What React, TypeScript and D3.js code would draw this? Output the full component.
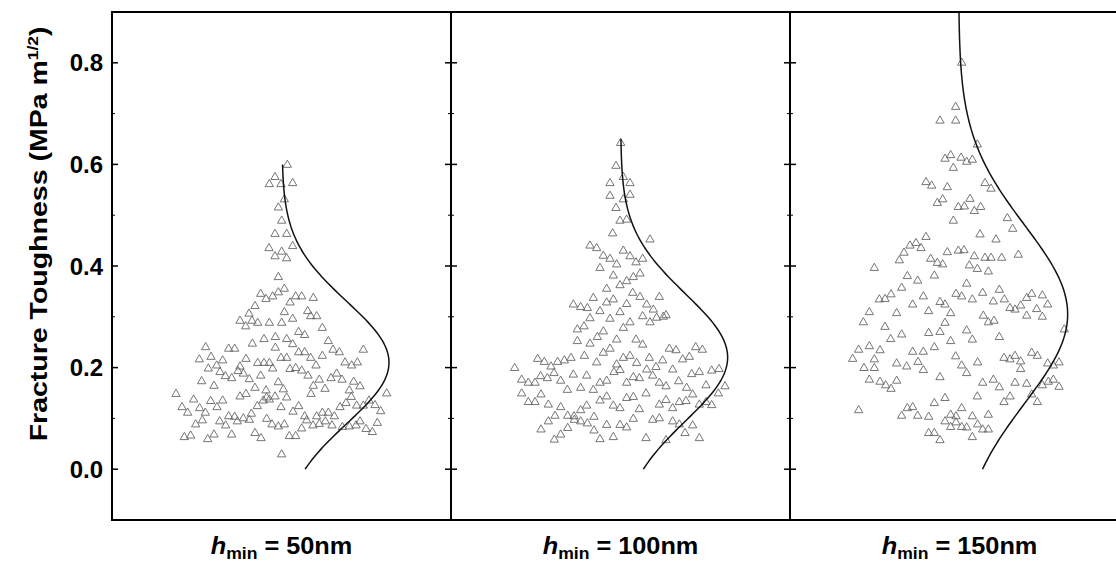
import React from "react";
import * as d3 from "d3";

// ---------- data ----------
const panelLabels = ["50nm", "100nm", "150nm"];
const yTicks = [0, 0.2, 0.4, 0.6, 0.8];
const yMinorTicks = [0.1, 0.3, 0.5, 0.7];
const yDomain: [number, number] = [-0.1, 0.9];
const jitterDomain: [number, number] = [0, 101.7];

// fitted normal curves (mean, sd, upper end of drawn curve, baseline jitter, amplitude in jitter units)
const fitMean = [0.21, 0.22, 0.305];
const fitSd = [0.12, 0.125, 0.175];
const fitTop = [0.6, 0.65, 0.9];
const fitBase = [51.0, 50.9, 50.6];
const fitAmp = [32.1, 32.1, 32.7];

// [jitter, fracture toughness]
const points50: [number, number][] = [
  [52.6,0.599],[48.9,0.575],[47.2,0.561],[50.7,0.561],[54.2,0.563],[51.7,0.531],[49.9,0.515],[50.9,0.489],
  [48.9,0.463],[52.4,0.463],[54.2,0.439],[47.1,0.435],[50.9,0.428],[48.9,0.419],[52.4,0.415],[49.9,0.378],
  [51.7,0.355],[49.9,0.348],[44.6,0.345],[48.2,0.340],[46.2,0.335],[55.1,0.340],[56.9,0.340],[60.4,0.337],
  [53.4,0.328],[42.9,0.321],[51.7,0.309],[58.7,0.311],[41.1,0.306],[59.6,0.301],[61.4,0.301],[54.2,0.296],
  [38.4,0.292],[42.0,0.292],[40.1,0.281],[43.7,0.288],[47.2,0.288],[50.9,0.288],[63.1,0.278],[56.0,0.270],
  [57.8,0.264],[49.0,0.260],[45.6,0.256],[52.4,0.256],[42.1,0.247],[54.2,0.246],[64.9,0.252],[28.1,0.240],
  [35.0,0.237],[36.8,0.237],[49.0,0.239],[66.3,0.235],[68.2,0.230],[75.4,0.235],[56.0,0.230],[57.8,0.230],
  [59.6,0.219],[63.1,0.223],[50.7,0.219],[52.4,0.219],[26.2,0.216],[29.7,0.221],[33.2,0.214],[40.2,0.217],
  [43.7,0.209],[45.6,0.209],[47.2,0.209],[31.4,0.204],[28.9,0.198],[38.4,0.202],[48.2,0.198],[53.4,0.197],
  [55.1,0.199],[56.9,0.194],[61.2,0.204],[69.9,0.210],[71.9,0.204],[73.6,0.210],[32.4,0.191],[37.8,0.193],
  [39.4,0.188],[34.0,0.183],[35.9,0.179],[41.2,0.177],[44.6,0.184],[58.8,0.184],[67.4,0.188],[65.7,0.179],
  [69.0,0.176],[26.9,0.173],[30.6,0.164],[49.9,0.171],[62.2,0.176],[72.5,0.172],[60.4,0.164],[63.9,0.158],
  [74.4,0.163],[42.9,0.160],[46.2,0.155],[51.4,0.157],[71.2,0.155],[19.2,0.148],[24.5,0.137],[38.4,0.143],
  [40.2,0.148],[59.7,0.148],[46.4,0.141],[48.9,0.143],[52.4,0.141],[47.2,0.137],[45.4,0.135],[29.6,0.134],
  [33.2,0.135],[71.8,0.142],[77.1,0.135],[82.4,0.149],[21.0,0.122],[26.3,0.120],[31.5,0.122],[22.7,0.111],
  [28.0,0.111],[43.6,0.124],[50.7,0.122],[56.0,0.124],[54.3,0.113],[68.4,0.122],[70.2,0.130],[73.4,0.125],
  [75.4,0.125],[78.9,0.126],[80.6,0.114],[41.8,0.109],[57.8,0.104],[61.4,0.104],[63.1,0.111],[64.9,0.111],
  [66.7,0.104],[58.4,0.096],[35.0,0.104],[36.8,0.103],[39.4,0.100],[41.2,0.097],[37.6,0.094],[46.4,0.099],
  [27.1,0.096],[32.3,0.094],[34.1,0.086],[25.1,0.088],[48.0,0.088],[49.9,0.084],[51.7,0.088],[60.3,0.086],
  [62.2,0.089],[64.0,0.094],[66.0,0.086],[69.1,0.083],[71.2,0.084],[73.2,0.086],[74.4,0.094],[79.6,0.091],
  [56.9,0.080],[76.2,0.079],[78.1,0.073],[21.7,0.063],[23.6,0.066],[28.7,0.059],[30.6,0.068],[35.9,0.068],
  [42.9,0.071],[44.7,0.061],[53.2,0.065],[55.1,0.065],[50.9,0.029],
];

const points100: [number, number][] = [
  [50.9,0.642],[49.5,0.597],[51.7,0.575],[53.7,0.563],[47.7,0.563],[47.7,0.538],[53.7,0.540],[51.7,0.531],
  [49.5,0.514],[50.7,0.489],[52.7,0.491],[48.5,0.464],[59.7,0.452],[41.7,0.440],[43.7,0.435],[51.7,0.430],
  [45.7,0.420],[47.7,0.414],[53.7,0.419],[49.7,0.403],[55.5,0.407],[57.5,0.414],[44.7,0.396],[56.7,0.385],
  [54.7,0.378],[52.7,0.370],[48.7,0.381],[50.7,0.362],[46.7,0.355],[54.5,0.347],[56.7,0.339],[62.5,0.339],
  [42.7,0.337],[48.7,0.334],[46.7,0.328],[36.7,0.324],[38.9,0.319],[40.9,0.317],[52.7,0.325],[58.7,0.324],
  [60.7,0.314],[44.7,0.311],[50.7,0.309],[41.7,0.297],[47.7,0.296],[57.5,0.301],[59.7,0.289],[61.7,0.298],
  [63.7,0.300],[64.5,0.303],[53.7,0.289],[51.7,0.278],[39.9,0.281],[37.9,0.275],[45.7,0.271],[43.9,0.260],
  [49.7,0.255],[41.7,0.247],[37.9,0.252],[55.5,0.255],[57.5,0.245],[65.5,0.237],[67.5,0.234],[73.4,0.240],
  [75.4,0.235],[45.7,0.229],[47.7,0.237],[40.0,0.223],[36.0,0.219],[26.0,0.217],[28.0,0.211],[30.0,0.202],
  [32.0,0.211],[34.0,0.214],[51.7,0.219],[53.7,0.223],[59.5,0.219],[63.5,0.214],[69.5,0.216],[71.5,0.221],
  [43.7,0.210],[49.7,0.206],[55.7,0.209],[61.5,0.201],[66.5,0.196],[48.9,0.191],[50.7,0.195],[19.1,0.199],
  [36.7,0.186],[40.7,0.184],[30.9,0.189],[26.9,0.183],[28.9,0.179],[58.7,0.196],[60.5,0.184],[52.7,0.170],
  [54.7,0.181],[56.5,0.179],[72.2,0.187],[74.5,0.191],[78.2,0.194],[80.4,0.197],[21.2,0.176],[23.2,0.170],
  [25.2,0.170],[32.9,0.174],[46.7,0.174],[44.7,0.170],[62.5,0.170],[64.5,0.163],[68.3,0.173],[70.7,0.160],
  [76.5,0.165],[82.2,0.163],[34.9,0.156],[38.9,0.160],[42.7,0.156],[21.2,0.149],[27.0,0.147],[23.2,0.132],
  [25.2,0.132],[46.7,0.143],[44.7,0.135],[58.5,0.149],[52.7,0.140],[54.7,0.142],[64.5,0.136],[68.5,0.132],
  [70.5,0.134],[72.5,0.147],[74.5,0.127],[76.5,0.132],[78.2,0.126],[80.2,0.149],[62.5,0.127],[66.5,0.120],
  [29.2,0.127],[32.9,0.122],[40.7,0.125],[38.9,0.116],[48.7,0.125],[50.7,0.120],[56.5,0.118],[36.9,0.104],
  [35.0,0.105],[31.2,0.105],[29.2,0.094],[42.9,0.103],[38.9,0.094],[40.9,0.090],[37.0,0.097],[54.7,0.099],
  [60.5,0.097],[62.5,0.100],[46.7,0.087],[50.7,0.087],[52.7,0.082],[27.0,0.078],[35.0,0.081],[42.9,0.076],
  [66.5,0.094],[68.5,0.088],[72.5,0.086],[70.2,0.071],[32.9,0.068],[31.0,0.058],[44.7,0.059],[48.7,0.063],
  [58.5,0.061],[64.5,0.057],[74.5,0.061],
];

const points150: [number, number][] = [
  [51.5,0.800],[49.7,0.713],[45.0,0.686],[49.7,0.686],[56.2,0.639],[46.5,0.611],[48.2,0.618],[49.0,0.593],
  [51.3,0.613],[53.0,0.605],[54.7,0.609],[40.8,0.565],[42.5,0.558],[47.2,0.555],[58.5,0.563],[60.3,0.552],
  [44.2,0.524],[45.8,0.531],[50.5,0.516],[52.3,0.517],[54.0,0.532],[55.3,0.508],[57.2,0.516],[49.0,0.489],
  [65.2,0.494],[66.8,0.473],[57.0,0.462],[61.8,0.452],[40.8,0.457],[36.0,0.440],[37.8,0.445],[39.3,0.435],
  [34.2,0.426],[32.8,0.411],[47.2,0.427],[50.5,0.430],[52.2,0.431],[55.3,0.419],[58.5,0.416],[60.3,0.416],
  [63.5,0.416],[68.5,0.422],[42.2,0.414],[44.2,0.406],[45.8,0.403],[53.8,0.401],[56.2,0.394],[59.5,0.389],
  [25.3,0.396],[35.2,0.380],[38.3,0.371],[43.3,0.381],[53.0,0.365],[33.5,0.357],[30.3,0.344],[28.5,0.335],
  [26.8,0.334],[40.0,0.340],[45.0,0.329],[46.5,0.324],[36.8,0.324],[49.8,0.345],[51.5,0.340],[54.7,0.334],
  [57.8,0.347],[62.8,0.353],[61.0,0.330],[64.3,0.334],[66.0,0.317],[67.5,0.314],[69.2,0.322],[71.0,0.337],
  [72.5,0.345],[75.7,0.342],[77.3,0.324],[74.0,0.315],[71.0,0.302],[75.7,0.300],[23.8,0.309],[32.0,0.307],
  [41.6,0.311],[48.2,0.307],[22.0,0.289],[58.0,0.302],[59.5,0.289],[61.2,0.292],[28.5,0.280],[46.5,0.288],
  [45.0,0.270],[41.6,0.268],[53.0,0.273],[54.7,0.255],[62.8,0.260],[30.2,0.256],[33.5,0.265],[48.2,0.252],
  [82.3,0.275],[20.6,0.235],[23.8,0.242],[27.0,0.234],[43.3,0.240],[36.8,0.231],[40.0,0.231],[18.8,0.217],
  [25.3,0.216],[22.2,0.199],[25.3,0.199],[32.0,0.208],[35.0,0.202],[38.4,0.211],[40.0,0.195],[49.7,0.222],
  [51.5,0.204],[53.0,0.189],[56.3,0.210],[64.2,0.219],[66.0,0.216],[67.5,0.223],[69.2,0.212],[69.2,0.197],
  [72.5,0.229],[74.2,0.223],[77.3,0.208],[79.0,0.204],[80.7,0.210],[45.0,0.181],[23.8,0.176],[27.0,0.172],
  [28.7,0.165],[30.3,0.158],[32.0,0.174],[57.8,0.170],[61.0,0.176],[62.8,0.161],[67.5,0.170],[71.0,0.168],
  [75.7,0.165],[77.5,0.172],[79.0,0.176],[80.7,0.162],[56.2,0.143],[46.5,0.140],[43.3,0.130],[66.0,0.143],
  [64.2,0.132],[72.5,0.147],[74.2,0.132],[20.6,0.116],[35.2,0.120],[36.8,0.122],[33.5,0.105],[38.3,0.105],
  [41.6,0.103],[51.5,0.120],[48.2,0.107],[49.8,0.104],[46.5,0.094],[48.2,0.083],[49.8,0.092],[51.5,0.083],
  [53.0,0.082],[54.7,0.104],[56.3,0.088],[59.5,0.107],[57.8,0.078],[59.5,0.078],[41.6,0.071],[43.3,0.071],
  [45.0,0.057],[54.7,0.063],
];

const panelPoints = [points50, points100, points150];

// ---------- layout ----------
const W = 1116;
const H = 565;
const plotLeft = 112;
const panelW = 339;
const plotTop = 12;
const plotBottom = 520;
const FONT = "'Liberation Sans', Arial, Helvetica, sans-serif";

export default function App() {
  const y = d3.scaleLinear().domain(yDomain).range([plotBottom, plotTop]);
  const triangle = d3.symbol().type(d3.symbolTriangle).size(30)();

  const panels = panelLabels.map((label, i) => {
    const x0 = plotLeft + panelW * i;
    const x = d3.scaleLinear().domain(jitterDomain).range([x0, x0 + panelW]);
    const vals = d3.range(0, fitTop[i] + 1e-9, 0.005);
    const norm = (v: number) => Math.exp(-0.5 * ((v - fitMean[i]) / fitSd[i]) ** 2);
    const line = d3
      .line<number>()
      .x((v) => x(fitBase[i] + fitAmp[i] * norm(v)))
      .y((v) => y(v))
      .curve(d3.curveBasis);
    return { label, i, x0, x, path: line(vals) || "" };
  });

  const ticks = (xLine: number) => (
    <g>
      {yTicks.map((t) => (
        <line key={"M" + t} x1={xLine - 6} x2={xLine + 6} y1={y(t)} y2={y(t)} stroke="#000" strokeWidth={1.5} />
      ))}
      {yMinorTicks.map((t) => (
        <line key={"m" + t} x1={xLine - 3} x2={xLine + 3} y1={y(t)} y2={y(t)} stroke="#000" strokeWidth={1} />
      ))}
    </g>
  );

  return (
    <svg
      width={W}
      height={H}
      viewBox={`0 0 ${W} ${H}`}
      style={{ position: "absolute", left: 0, top: 0, background: "#fff" }}
    >
      <defs>
        <clipPath id="plotClip">
          <rect x={plotLeft} y={plotTop} width={panelW * 3} height={plotBottom - plotTop} />
        </clipPath>
      </defs>
      <rect x={0} y={0} width={W} height={H} fill="#fff" />

      {/* scatter points */}
      {panels.map((p) => (
        <g key={"pts" + p.i}>
          {panelPoints[p.i].map((d, k) => (
            <path
              key={k}
              d={triangle}
              transform={`translate(${p.x(d[0])},${y(d[1])})`}
              fill="none"
              stroke="#666"
              strokeWidth={0.9}
            />
          ))}
        </g>
      ))}

      {/* fitted curves */}
      <g clipPath="url(#plotClip)">
        {panels.map((p) => (
          <path key={"c" + p.i} d={p.path} fill="none" stroke="#111" strokeWidth={1.5} />
        ))}
      </g>

      {/* ticks on each vertical axis */}
      {[0, 1, 2, 3].map((k) => (
        <g key={"t" + k}>{ticks(plotLeft + panelW * k)}</g>
      ))}
      {/* mask outside-left ticks of the first axis */}
      <rect x={plotLeft - 8} y={plotTop} width={7} height={plotBottom - plotTop} fill="#fff" />

      {/* frame and dividers */}
      <rect
        x={plotLeft}
        y={plotTop}
        width={panelW * 3}
        height={plotBottom - plotTop}
        fill="none"
        stroke="#000"
        strokeWidth={2}
      />
      {[1, 2].map((k) => (
        <line
          key={"d" + k}
          x1={plotLeft + panelW * k}
          x2={plotLeft + panelW * k}
          y1={plotTop}
          y2={plotBottom}
          stroke="#000"
          strokeWidth={2}
        />
      ))}

      {/* y tick labels */}
      {yTicks.map((t) => (
        <text
          key={"l" + t}
          x={103}
          y={y(t)}
          dy="0.36em"
          textAnchor="end"
          fontFamily={FONT}
          fontWeight="bold"
          fontSize={24}
          fill="#000"
        >
          {d3.format(".1f")(t)}
        </text>
      ))}

      {/* y axis title */}
      <text
        transform={`translate(46.5,234) rotate(-90) scale(1.24,1)`}
        textAnchor="middle"
        fontFamily={FONT}
        fontWeight="bold"
        fontSize={23}
        fill="#000"
      >
        <tspan>Fracture Toughness (MPa m</tspan>
        <tspan fontSize={14} dy={-9}>1/2</tspan>
        <tspan dy={9}>)</tspan>
      </text>

      {/* panel labels */}
      {panels.map((p) => (
        <text
          key={"pl" + p.i}
          transform={`translate(${p.x0 + panelW / 2},554) scale(1.1,1)`}
          textAnchor="middle"
          fontFamily={FONT}
          fontWeight="bold"
          fontSize={23}
          fill="#000"
        >
          <tspan fontStyle="italic">h</tspan>
          <tspan fontSize={16} dy={5}>min</tspan>
          <tspan dy={-5}>{" = " + p.label}</tspan>
        </text>
      ))}
    </svg>
  );
}
